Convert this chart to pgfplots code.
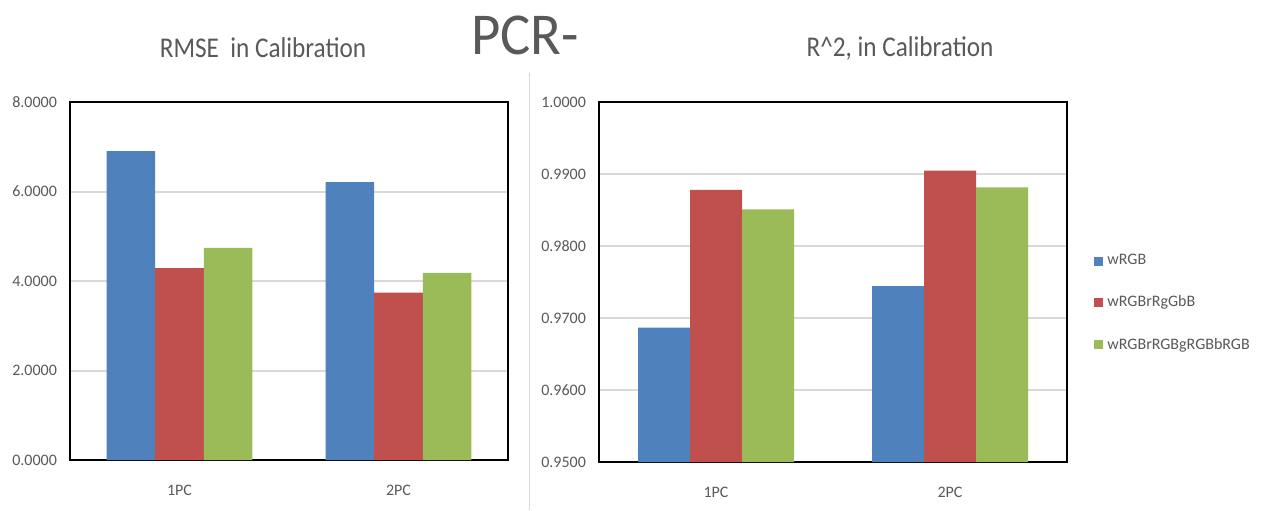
\documentclass[border=0pt]{standalone}
\usepackage{graphicx}
\usepackage{pgfplots}
\pgfplotsset{compat=1.18}
\usepackage{fontspec}
\setmainfont{Carlito}
\definecolor{cblue}{HTML}{4F81BD}
\definecolor{cred}{HTML}{C0504D}
\definecolor{cgreen}{HTML}{9BBB59}
\definecolor{txt}{HTML}{595959}
\definecolor{gridc}{HTML}{D9D9D9}
\pgfplotsset{
  common/.style={
    scale only axis, anchor=south west,
    ybar=0pt,
    xmin=-0.5, xmax=1.5,
    xtick={0,1}, xticklabels={1PC,2PC},
    ymajorgrids, grid style={gridc, line width=1pt},
    major tick length=0pt,
    axis line style={black, line width=0.8pt},
    tick label style={font=\fontsize{8}{9}\selectfont, text=txt},
    /pgf/number format/assume math mode=true,
    yticklabel style={/pgf/number format/fixed, /pgf/number format/fixed zerofill, /pgf/number format/precision=4},
    xticklabel style={yshift=-9pt},
    yticklabel style={xshift=-3pt},
    every axis plot/.append style={draw=none},
  }
}
\begin{document}
\begin{tikzpicture}
\useasboundingbox (0,0) rectangle (631.5pt,255pt);
\draw[gridc, line width=0.8pt] (264.75pt,0pt) -- (264.75pt,218.5pt);
\node[text=txt, font=\fontsize{13}{14}\selectfont] at (131.5pt,231pt) {\scalebox{0.97}[1.1]{RMSE\ \ in Calibration}};
\node[text=txt, font=\fontsize{13}{14}\selectfont] at (450pt,231pt) {\scalebox{0.97}[1.1]{R\textasciicircum 2, in Calibration}};
\node[text=txt, font=\fontsize{27}{29}\selectfont] at (262.5pt,237.5pt) {\scalebox{1.05}[1.1]{PCR-}};
\begin{axis}[common, at={(35pt,25pt)}, width=219pt, height=179pt,
  bar width=24.25pt, ymin=0, ymax=8, ytick={0,2,4,6,8}]
\addplot[fill=cblue] coordinates {(0,6.90) (1,6.21)};
\addplot[fill=cred] coordinates {(0,4.29) (1,3.74)};
\addplot[fill=cgreen] coordinates {(0,4.74) (1,4.18)};
\end{axis}
\begin{axis}[common, at={(299.5pt,24pt)}, width=234pt, height=180pt,
  bar width=26pt, ymin=0.95, ymax=1.0, ytick={0.95,0.96,0.97,0.98,0.99,1.0},
  legend style={draw=none, at={(1.045,0.60)}, anchor=north west,
    font=\fontsize{8}{9}\selectfont, text=txt, row sep=10pt, cells={anchor=west}},
  legend image code/.code={\fill[#1] (0pt,-2.25pt) rectangle (4.5pt,2.25pt);}]
\addplot[fill=cblue] coordinates {(0,0.96865) (1,0.97444)};
\addplot[fill=cred] coordinates {(0,0.98778) (1,0.99046)};
\addplot[fill=cgreen] coordinates {(0,0.98510) (1,0.98815)};
\legend{wRGB,wRGBrRgGbB,wRGBrRGBgRGBbRGB}
\end{axis}
\end{tikzpicture}
\end{document}
